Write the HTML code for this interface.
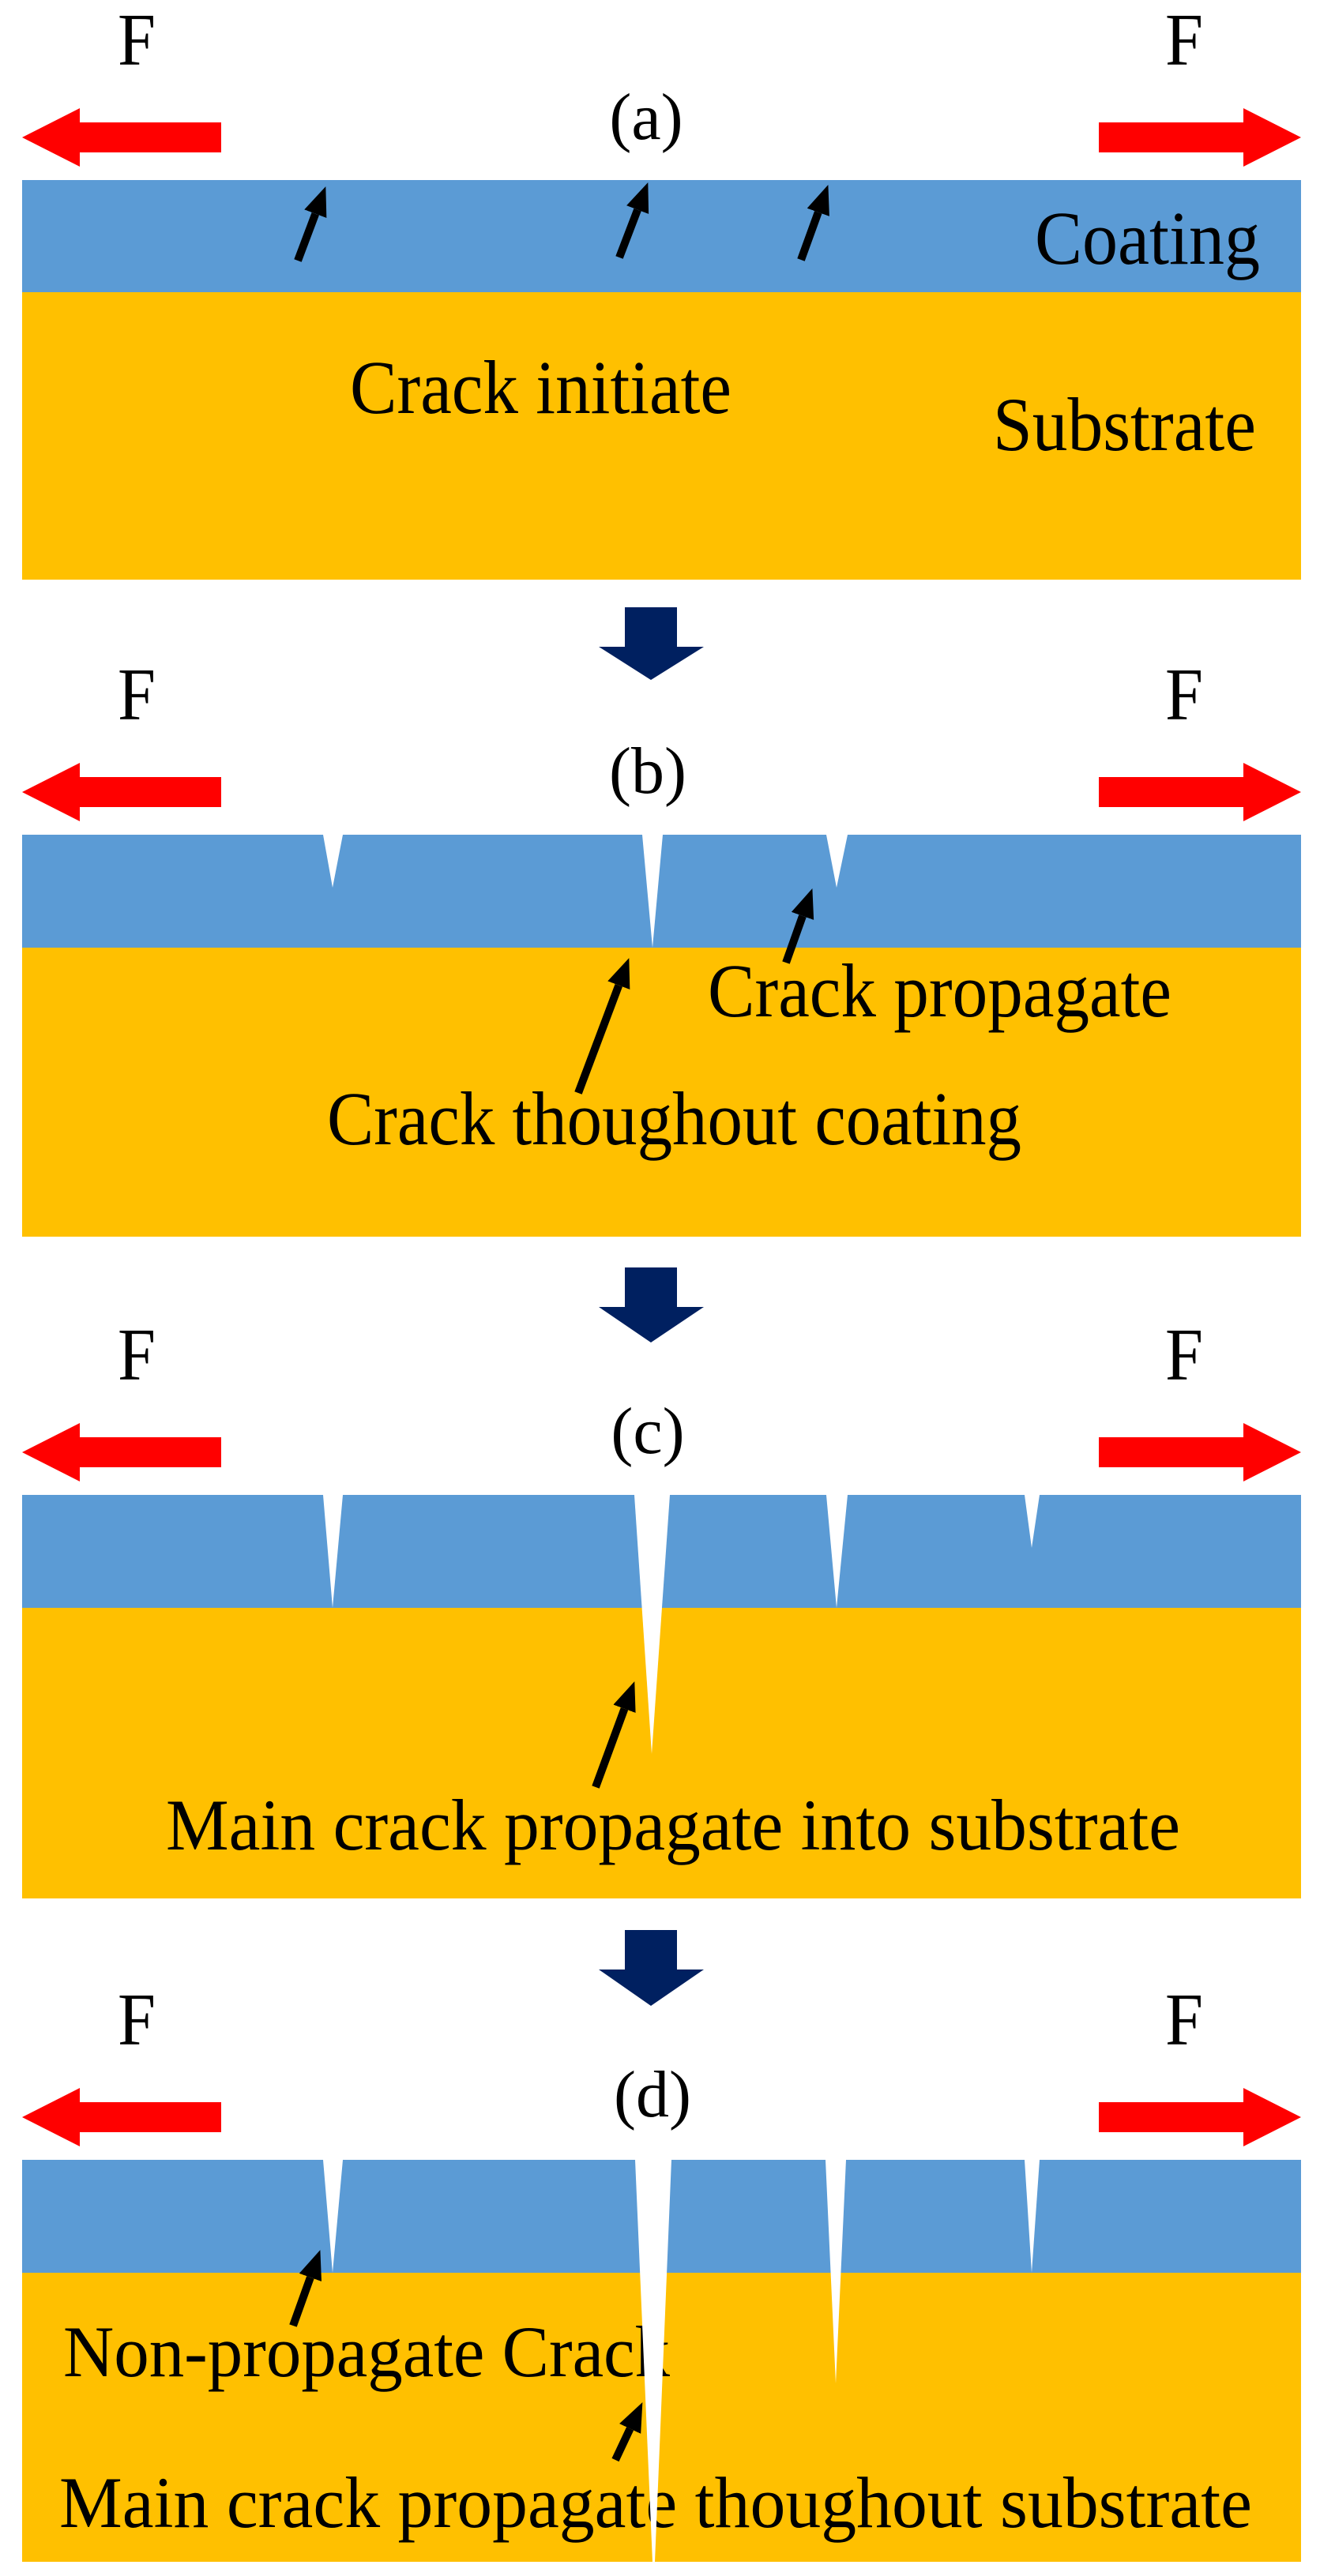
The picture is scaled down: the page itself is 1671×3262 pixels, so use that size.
<!DOCTYPE html>
<html><head><meta charset="utf-8"><style>html,body{margin:0;padding:0;background:#fff}svg{display:block}</style></head>
<body>
<svg width="1671" height="3262" viewBox="0 0 1671 3262" xmlns="http://www.w3.org/2000/svg" font-family="Liberation Serif, serif">
<defs>
<marker id="ah" markerUnits="userSpaceOnUse" markerWidth="40" markerHeight="32" refX="0" refY="16" orient="auto">
<path d="M0,1 L37,16 L0,31 Z" fill="#000"/>
</marker>
</defs>
<rect x="28" y="228" width="1619" height="142" fill="#5B9BD5"/>
<rect x="28" y="370" width="1619" height="364" fill="#FFC000"/>
<rect x="28" y="1057" width="1619" height="143" fill="#5B9BD5"/>
<rect x="28" y="1200" width="1619" height="366" fill="#FFC000"/>
<rect x="28" y="1893" width="1619" height="143" fill="#5B9BD5"/>
<rect x="28" y="2036" width="1619" height="368" fill="#FFC000"/>
<rect x="28" y="2735" width="1619" height="143" fill="#5B9BD5"/>
<rect x="28" y="2878" width="1619" height="366" fill="#FFC000"/>

<g fill="#FF0000">
<polygon points="280,155 101,155 101,137 28,174 101,211 101,193 280,193"/>
<polygon points="1391,155 1574,155 1574,137 1647,174 1574,211 1574,193 1391,193"/>
<polygon points="280,984 101,984 101,966 28,1003 101,1040 101,1022 280,1022"/>
<polygon points="1391,984 1574,984 1574,966 1647,1003 1574,1040 1574,1022 1391,1022"/>
<polygon points="280,1820 101,1820 101,1802 28,1839 101,1876 101,1858 280,1858"/>
<polygon points="1391,1820 1574,1820 1574,1802 1647,1839 1574,1876 1574,1858 1391,1858"/>
<polygon points="280,2662 101,2662 101,2644 28,2681 101,2718 101,2700 280,2700"/>
<polygon points="1391,2662 1574,2662 1574,2644 1647,2681 1574,2718 1574,2700 1391,2700"/>
</g>

<g fill="#002060">
<polygon points="791,769 857,769 857,819 891,819 824,861 758,819 791,819"/>
<polygon points="791,1605 857,1605 857,1655 891,1655 824,1700 758,1655 791,1655"/>
<polygon points="791,2444 857,2444 857,2494 891,2494 824,2540 758,2494 791,2494"/>
</g>

<g font-size="94" fill="#000">
<text x="149" y="82" textLength="48" lengthAdjust="spacingAndGlyphs">F</text>
<text x="1475" y="82" textLength="48" lengthAdjust="spacingAndGlyphs">F</text>
<text x="149" y="911" textLength="48" lengthAdjust="spacingAndGlyphs">F</text>
<text x="1475" y="911" textLength="48" lengthAdjust="spacingAndGlyphs">F</text>
<text x="149" y="1747" textLength="48" lengthAdjust="spacingAndGlyphs">F</text>
<text x="1475" y="1747" textLength="48" lengthAdjust="spacingAndGlyphs">F</text>
<text x="149" y="2589" textLength="48" lengthAdjust="spacingAndGlyphs">F</text>
<text x="1475" y="2589" textLength="48" lengthAdjust="spacingAndGlyphs">F</text>
</g>
<g font-size="84" fill="#000" text-anchor="middle">
<text x="818" y="176">(a)</text>
<text x="820" y="1004">(b)</text>
<text x="820" y="1840">(c)</text>
<text x="826" y="2680">(d)</text>
</g>

<g font-size="96" fill="#000">
<text x="1310" y="334" textLength="285" lengthAdjust="spacingAndGlyphs">Coating</text>
<text x="443" y="523" textLength="483" lengthAdjust="spacingAndGlyphs">Crack initiate</text>
<text x="1257" y="570" textLength="333" lengthAdjust="spacingAndGlyphs">Substrate</text>
<text x="896" y="1287" textLength="587" lengthAdjust="spacingAndGlyphs">Crack propagate</text>
<text x="414" y="1449" textLength="879" lengthAdjust="spacingAndGlyphs">Crack thoughout coating</text>
</g>
<g font-size="92" fill="#000">
<text x="210" y="2342" textLength="1284" lengthAdjust="spacingAndGlyphs">Main crack propagate into substrate</text>
<text x="80" y="3009" textLength="768" lengthAdjust="spacingAndGlyphs">Non-propagate Crack</text>
<text x="75" y="3200" textLength="1510" lengthAdjust="spacingAndGlyphs">Main crack propagate thoughout substrate</text>
</g>

<g fill="#fff">
<polygon points="409,1057 434,1057 421,1124"/>
<polygon points="813,1057 839,1057 826,1200"/>
<polygon points="1046,1057 1073,1057 1059,1124"/>
<polygon points="409,1893 434,1893 421,2036"/>
<polygon points="803,1893 848,1893 825,2221"/>
<polygon points="1046,1893 1073,1893 1059,2036"/>
<polygon points="1297,1893 1316,1893 1306,1960"/>
<polygon points="409,2735 434,2735 421,2878"/>
<polygon points="804,2735 850,2735 829,3244 826,3244"/>
<polygon points="1045,2735 1071,2735 1058,3018"/>
<polygon points="1297,2735 1316,2735 1306,2878"/>
</g>

<g stroke="#000" stroke-width="10" marker-end="url(#ah)" fill="none">
<line x1="377" y1="330" x2="399.3" y2="270.7"/>
<line x1="784" y1="326" x2="807.1" y2="265.6"/>
<line x1="1014" y1="329" x2="1035.8" y2="268.8"/>
<line x1="995" y1="1219" x2="1016" y2="1159.9"/>
<line x1="732" y1="1384" x2="783.3" y2="1247.7"/>
<line x1="754" y1="2263" x2="790.5" y2="2163.8"/>
<line x1="371" y1="2945" x2="392.9" y2="2883.9"/>
<line x1="779" y1="3115" x2="797.6" y2="3075.5"/>
</g>
</svg>
</body></html>
